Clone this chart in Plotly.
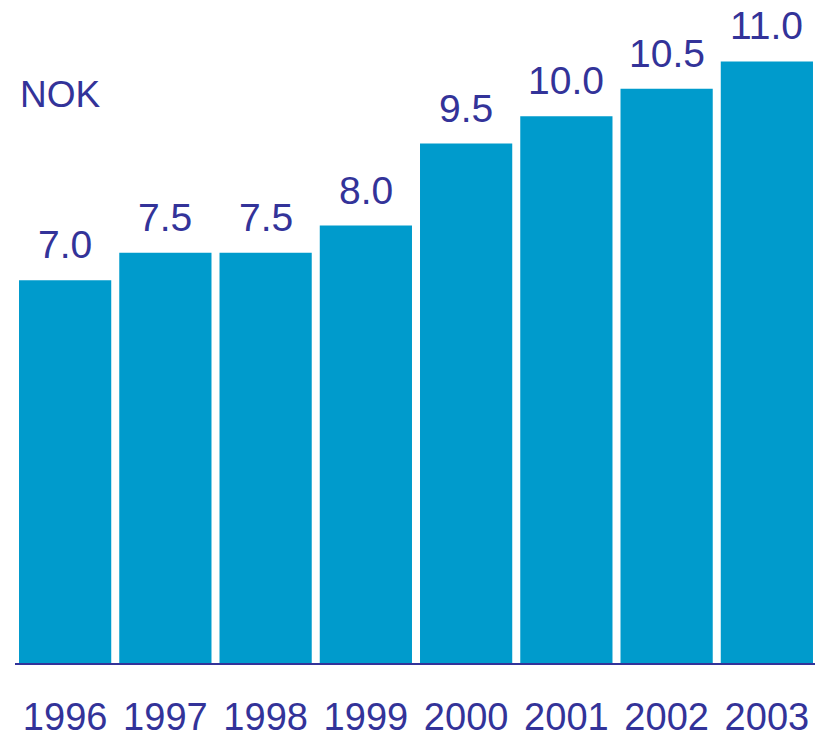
import plotly.graph_objects as go

years = ["1996", "1997", "1998", "1999", "2000", "2001", "2002", "2003"]
dividend = [7.0, 7.5, 7.5, 8.0, 9.5, 10.0, 10.5, 11.0]
labels = [f"{v:.1f}" for v in dividend]

bar_color = "#009BCC"
text_color = "#333399"
font_family = "Liberation Sans, Arial, sans-serif"

fig = go.Figure()
fig.add_trace(go.Bar(
    x=years,
    y=dividend,
    marker_color=bar_color,
    marker_line_width=0,
    hoverinfo="skip",
))

# value labels above the bars (category axis -> use position index)
for i, (v, lab) in enumerate(zip(dividend, labels)):
    fig.add_annotation(
        x=i, y=v, text=lab, showarrow=False,
        yanchor="bottom", yshift=12,
        font=dict(family=font_family, size=39, color=text_color),
    )

fig.add_annotation(
    xref="paper", yref="paper", x=0.004, y=0.842,
    text="NOK", showarrow=False, xanchor="left", yanchor="bottom",
    font=dict(family=font_family, size=37, color=text_color),
)

fig.update_layout(
    width=823, height=734,
    margin=dict(l=7, r=14, t=7, b=79),
    paper_bgcolor="white",
    plot_bgcolor="white",
    bargap=0.08,
    showlegend=False,
    xaxis=dict(
        type="category",
        range=[-0.5, 7.5],
        automargin=False,
        showline=True, linecolor=text_color, linewidth=2,
        ticks="outside", ticklen=19, tickcolor="rgba(0,0,0,0)",
        tickfont=dict(family=font_family, size=38, color=text_color),
        showgrid=False,
    ),
    yaxis=dict(
        range=[0, 11.85], visible=False, showgrid=False, zeroline=False,
        automargin=False,
    ),
)

fig.write_html("out.html")
